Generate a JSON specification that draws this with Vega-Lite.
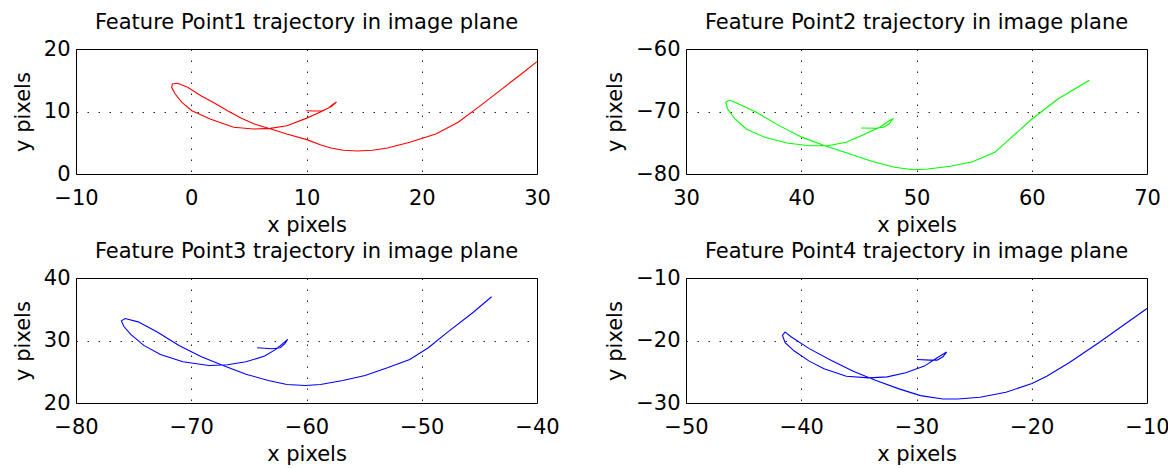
{
  "$schema": "https://vega.github.io/schema/vega-lite/v6.json",
  "padding": {"left": 11, "top": 11, "right": 0, "bottom": 0},
  "background": "white",
  "bounds": "flush",
  "spacing": {"row": 104, "column": 149},
  "columns": 2,
  "config": {
    "font": "DejaVu Sans",
    "view": {"stroke": "black", "strokeWidth": 1},
    "axis": {
      "labelFontSize": 21, "titleFontSize": 21, "titleFontWeight": "normal",
      "labelColor": "black", "titleColor": "black",
      "domain": false, "ticks": false,
      "gridColor": "#000", "gridDash": [1.5, 9.5], "gridOpacity": 0.85, "gridWidth": 1
    },
    "axisX": {"labelPadding": 13, "titlePadding": 6, "labelFlush": false},
    "axisY": {"labelPadding": 6, "titlePadding": 10},
    "title": {"fontSize": 21, "fontWeight": "normal", "color": "black", "offset": 5}
  },
  "datasets": {
    "p1": [
      {"i":1,"x":30.0,"y":17.97},{"i":2,"x":28.64,"y":16.0},{"i":3,"x":27.03,"y":13.71},{"i":4,"x":25.09,"y":10.93},
      {"i":5,"x":23.16,"y":8.27},{"i":6,"x":21.22,"y":6.4},{"i":7,"x":18.96,"y":5.07},{"i":8,"x":17.02,"y":4.16},
      {"i":9,"x":15.73,"y":3.79},{"i":10,"x":14.44,"y":3.68},{"i":11,"x":13.2,"y":3.8},{"i":12,"x":12.12,"y":4.16},
      {"i":13,"x":11.25,"y":4.64},{"i":14,"x":10.03,"y":5.5},{"i":15,"x":8.36,"y":6.35},{"i":16,"x":6.91,"y":7.2},
      {"i":17,"x":5.47,"y":8.0},{"i":18,"x":4.31,"y":8.96},{"i":19,"x":3.15,"y":10.13},{"i":20,"x":2.0,"y":11.36},
      {"i":21,"x":0.84,"y":12.53},{"i":22,"x":-0.31,"y":13.87},{"i":23,"x":-1.18,"y":14.51},{"i":24,"x":-1.64,"y":14.4},
      {"i":25,"x":-1.7,"y":13.87},{"i":26,"x":-1.39,"y":12.8},{"i":27,"x":-0.81,"y":11.47},{"i":28,"x":0.05,"y":10.13},
      {"i":29,"x":1.64,"y":8.8},{"i":30,"x":3.67,"y":7.47},{"i":31,"x":5.41,"y":7.2},{"i":32,"x":6.85,"y":7.3},
      {"i":33,"x":8.3,"y":7.73},{"i":34,"x":9.97,"y":8.9},{"i":35,"x":11.21,"y":9.9},{"i":36,"x":12.18,"y":10.83},
      {"i":37,"x":12.6,"y":11.52},{"i":38,"x":12.34,"y":11.2},{"i":39,"x":11.86,"y":10.5},{"i":40,"x":11.37,"y":10.13},
      {"i":41,"x":10.56,"y":10.08},{"i":42,"x":9.97,"y":10.13}
    ],
    "p2": [
      {"i":1,"x":65.0,"y":-65.0},{"i":2,"x":62.27,"y":-68.0},{"i":3,"x":60.02,"y":-71.2},{"i":4,"x":58.41,"y":-73.87},
      {"i":5,"x":56.8,"y":-76.53},{"i":6,"x":54.86,"y":-78.03},{"i":7,"x":52.93,"y":-78.77},{"i":8,"x":51.0,"y":-79.2},
      {"i":9,"x":49.71,"y":-79.31},{"i":10,"x":48.1,"y":-78.93},{"i":11,"x":46.17,"y":-78.0},{"i":12,"x":43.91,"y":-76.6},
      {"i":13,"x":41.98,"y":-75.45},{"i":14,"x":40.05,"y":-74.1},{"i":15,"x":38.12,"y":-72.3},{"i":16,"x":36.18,"y":-70.2},
      {"i":17,"x":34.25,"y":-68.53},{"i":18,"x":33.77,"y":-68.16},{"i":19,"x":33.45,"y":-68.53},{"i":20,"x":33.61,"y":-69.6},
      {"i":21,"x":34.25,"y":-71.2},{"i":22,"x":35.22,"y":-72.8},{"i":23,"x":36.83,"y":-74.13},{"i":24,"x":38.76,"y":-75.04},
      {"i":25,"x":40.69,"y":-75.47},{"i":26,"x":42.3,"y":-75.47},{"i":27,"x":43.91,"y":-74.93},{"i":28,"x":45.2,"y":-73.87},
      {"i":29,"x":46.81,"y":-72.53},{"i":30,"x":47.62,"y":-71.47},{"i":31,"x":47.94,"y":-71.2},{"i":32,"x":47.62,"y":-72.0},
      {"i":33,"x":47.13,"y":-72.53},{"i":34,"x":46.49,"y":-72.69},{"i":35,"x":45.2,"y":-72.64}
    ],
    "p3": [
      {"i":1,"x":-43.94,"y":37.0},{"i":2,"x":-45.55,"y":34.48},{"i":3,"x":-47.81,"y":31.26},{"i":4,"x":-49.43,"y":28.85},
      {"i":5,"x":-51.04,"y":26.97},{"i":6,"x":-52.98,"y":25.63},{"i":7,"x":-54.92,"y":24.4},{"i":8,"x":-56.85,"y":23.59},
      {"i":9,"x":-58.79,"y":22.95},{"i":10,"x":-60.08,"y":22.79},{"i":11,"x":-61.7,"y":22.95},{"i":12,"x":-63.31,"y":23.6},
      {"i":13,"x":-65.25,"y":24.6},{"i":14,"x":-67.18,"y":25.95},{"i":15,"x":-69.12,"y":27.4},{"i":16,"x":-71.06,"y":29.2},
      {"i":17,"x":-72.99,"y":31.4},{"i":18,"x":-74.61,"y":32.98},{"i":19,"x":-75.74,"y":33.51},{"i":20,"x":-76.06,"y":33.14},
      {"i":21,"x":-75.84,"y":32.23},{"i":22,"x":-75.25,"y":30.99},{"i":23,"x":-74.12,"y":29.22},{"i":24,"x":-72.67,"y":27.77},
      {"i":25,"x":-70.73,"y":26.6},{"i":26,"x":-68.47,"y":26.01},{"i":27,"x":-66.86,"y":26.11},{"i":28,"x":-65.25,"y":26.6},
      {"i":29,"x":-63.63,"y":27.51},{"i":30,"x":-62.66,"y":28.58},{"i":31,"x":-61.86,"y":29.81},{"i":32,"x":-61.63,"y":30.19},
      {"i":33,"x":-61.86,"y":29.54},{"i":34,"x":-62.28,"y":28.85},{"i":35,"x":-62.99,"y":28.69},{"i":36,"x":-64.28,"y":28.85}
    ],
    "p4": [
      {"i":1,"x":-10.0,"y":-14.88},{"i":2,"x":-11.93,"y":-17.4},{"i":3,"x":-14.19,"y":-20.35},{"i":4,"x":-16.76,"y":-23.57},
      {"i":5,"x":-18.7,"y":-25.71},{"i":6,"x":-19.98,"y":-26.89},{"i":7,"x":-22.24,"y":-28.28},{"i":8,"x":-24.49,"y":-29.09},
      {"i":9,"x":-26.43,"y":-29.36},{"i":10,"x":-27.71,"y":-29.36},{"i":11,"x":-29.65,"y":-28.82},{"i":12,"x":-31.58,"y":-27.7},
      {"i":13,"x":-33.51,"y":-26.4},{"i":14,"x":-35.44,"y":-24.95},{"i":15,"x":-37.38,"y":-23.2},{"i":16,"x":-39.31,"y":-21.3},
      {"i":17,"x":-40.92,"y":-19.35},{"i":18,"x":-41.4,"y":-18.63},{"i":19,"x":-41.63,"y":-19.17},{"i":20,"x":-41.4,"y":-20.35},
      {"i":21,"x":-40.6,"y":-21.69},{"i":22,"x":-39.31,"y":-23.3},{"i":23,"x":-38.02,"y":-24.53},{"i":24,"x":-36.09,"y":-25.71},
      {"i":25,"x":-34.15,"y":-25.98},{"i":26,"x":-32.54,"y":-25.82},{"i":27,"x":-30.93,"y":-25.17},{"i":28,"x":-29.32,"y":-24.1},
      {"i":29,"x":-28.2,"y":-22.76},{"i":30,"x":-27.39,"y":-21.85},{"i":31,"x":-27.71,"y":-22.6},{"i":32,"x":-28.2,"y":-23.14},
      {"i":33,"x":-28.84,"y":-23.14},{"i":34,"x":-29.97,"y":-23.03}
    ]
  },
  "concat": [
    {
      "width": 461, "height": 125,
      "title": "Feature Point1 trajectory in image plane",
      "data": {"name": "p1"},
      "mark": {"type": "line", "color": "#ff0000", "strokeWidth": 1.1},
      "encoding": {
        "x": {"field": "x", "type": "quantitative", "title": "x pixels", "scale": {"domain": [-10, 30], "nice": false, "zero": false}, "axis": {"values": [-10, 0, 10, 20, 30]}},
        "y": {"field": "y", "type": "quantitative", "title": "y pixels", "scale": {"domain": [0, 20], "nice": false, "zero": false}, "axis": {"values": [0, 10, 20]}},
        "order": {"field": "i", "type": "quantitative"}
      }
    },
    {
      "width": 461, "height": 125,
      "title": "Feature Point2 trajectory in image plane",
      "data": {"name": "p2"},
      "mark": {"type": "line", "color": "#00ff00", "strokeWidth": 1.1},
      "encoding": {
        "x": {"field": "x", "type": "quantitative", "title": "x pixels", "scale": {"domain": [30, 70], "nice": false, "zero": false}, "axis": {"values": [30, 40, 50, 60, 70]}},
        "y": {"field": "y", "type": "quantitative", "title": "y pixels", "scale": {"domain": [-80, -60], "nice": false, "zero": false}, "axis": {"values": [-80, -70, -60]}},
        "order": {"field": "i", "type": "quantitative"}
      }
    },
    {
      "width": 461, "height": 125,
      "title": "Feature Point3 trajectory in image plane",
      "data": {"name": "p3"},
      "mark": {"type": "line", "color": "#0000ff", "strokeWidth": 1.1},
      "encoding": {
        "x": {"field": "x", "type": "quantitative", "title": "x pixels", "scale": {"domain": [-80, -40], "nice": false, "zero": false}, "axis": {"values": [-80, -70, -60, -50, -40]}},
        "y": {"field": "y", "type": "quantitative", "title": "y pixels", "scale": {"domain": [20, 40], "nice": false, "zero": false}, "axis": {"values": [20, 30, 40]}},
        "order": {"field": "i", "type": "quantitative"}
      }
    },
    {
      "width": 461, "height": 125,
      "title": "Feature Point4 trajectory in image plane",
      "data": {"name": "p4"},
      "mark": {"type": "line", "color": "#0000ff", "strokeWidth": 1.1},
      "encoding": {
        "x": {"field": "x", "type": "quantitative", "title": "x pixels", "scale": {"domain": [-50, -10], "nice": false, "zero": false}, "axis": {"values": [-50, -40, -30, -20, -10]}},
        "y": {"field": "y", "type": "quantitative", "title": "y pixels", "scale": {"domain": [-30, -10], "nice": false, "zero": false}, "axis": {"values": [-30, -20, -10]}},
        "order": {"field": "i", "type": "quantitative"}
      }
    }
  ]
}
